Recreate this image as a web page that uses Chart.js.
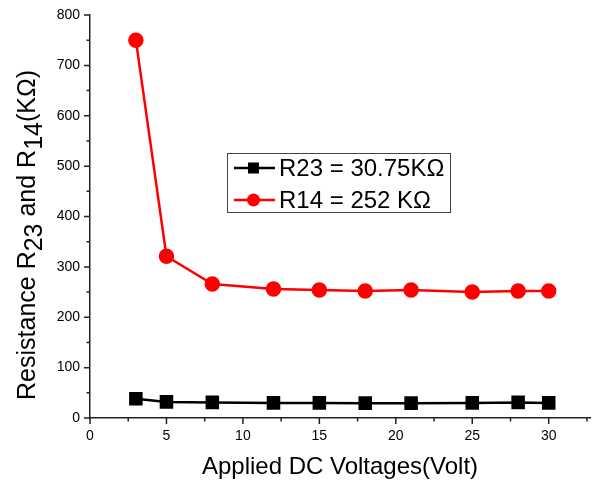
<!DOCTYPE html>
<html>
<head>
<meta charset="utf-8">
<script src="https://cdn.jsdelivr.net/npm/chart.js@4/dist/chart.umd.min.js"></script>
<style>
  html, body { margin: 0; padding: 0; background: #fff; }
  #wrap { width: 592px; height: 482px; position: relative; }
</style>
</head>
<body>
<div id="wrap"><canvas id="resChart"></canvas></div>
<script>
// data
var voltages = [3, 5, 8, 12, 15, 18, 21, 25, 28, 30];
var r23 = [38, 32, 31, 30, 30, 29.5, 29.5, 30, 31, 30];
var r14 = [750, 321, 266, 256, 254, 252, 254, 250, 252, 252];
var xTicks = [0, 5, 10, 15, 20, 25, 30];
var yTicks = [0, 100, 200, 300, 400, 500, 600, 700, 800];

var FONT = 'Arial, "Liberation Sans", sans-serif';

function pairs(xs, ys) {
	return xs.map(function (x, i) { return { x: x, y: ys[i] }; });
}

// minor + major tick marks, drawn outward like the original plot
var tickMarks = {
	id: 'tickMarks',
	afterDraw: function (chart) {
		var ctx = chart.ctx, xs = chart.scales.x, ys = chart.scales.y;
		var area = chart.chartArea;
		ctx.save();
		ctx.strokeStyle = '#222';
		ctx.lineWidth = 1.5;
		ctx.beginPath();
		for (var v = 0; v <= 800; v += 50) {
			var py = ys.getPixelForValue(v);
			var len = v % 100 === 0 ? 6 : 3.5;
			ctx.moveTo(area.left, py);
			ctx.lineTo(area.left - len, py);
		}
		for (var u = 0; u <= 32.5; u += 2.5) {
			var px = xs.getPixelForValue(u);
			var l = u % 5 === 0 ? 6 : 3.5;
			ctx.moveTo(px, area.bottom);
			ctx.lineTo(px, area.bottom + l);
		}
		ctx.stroke();
		ctx.restore();
	}
};

// rotated y title with subscripts (Origin keeps them full size, just lowered)
var yTitle = {
	id: 'yTitle',
	afterDraw: function (chart) {
		var ctx = chart.ctx;
		var parts = [['Resistance R', 0], ['23', 1], [' and R', 0], ['14', 1], ['(K\u03A9)', 0]];
		ctx.save();
		ctx.translate(35, 235);
		ctx.rotate(-Math.PI / 2);
		ctx.fillStyle = '#000';
		ctx.textBaseline = 'alphabetic';
		ctx.font = '25px ' + FONT;
		var total = 0;
		parts.forEach(function (p) { total += ctx.measureText(p[0]).width; });
		var x = -total / 2;
		parts.forEach(function (p) {
			ctx.fillText(p[0], x, p[1] ? 7 : 0);
			x += ctx.measureText(p[0]).width;
		});
		ctx.restore();
	}
};

// boxed legend inside the plot
var boxLegend = {
	id: 'boxLegend',
	afterDraw: function (chart) {
		var ctx = chart.ctx;
		ctx.save();
		ctx.fillStyle = '#fff';
		ctx.fillRect(227, 153, 223, 59);
		ctx.strokeStyle = '#444';
		ctx.lineWidth = 1;
		ctx.strokeRect(227.5, 153.5, 223, 59);
		chart.data.datasets.forEach(function (ds, i) {
			var y = 168 + i * 32;
			ctx.strokeStyle = ds.borderColor;
			ctx.lineWidth = 2.5;
			ctx.beginPath();
			ctx.moveTo(234, y);
			ctx.lineTo(275, y);
			ctx.stroke();
			ctx.fillStyle = ds.backgroundColor;
			if (ds.pointStyle === 'rect') {
				ctx.fillRect(248, y - 5.5, 11, 11);
			} else {
				ctx.beginPath();
				ctx.arc(253.5, y, 6.5, 0, Math.PI * 2);
				ctx.fill();
			}
			ctx.fillStyle = '#000';
			ctx.font = '24px ' + FONT;
			ctx.textBaseline = 'middle';
			ctx.fillText(ds.label, 279, y + 1);
		});
		ctx.restore();
	}
};

var ctx = document.getElementById('resChart');
var myChart = new Chart(ctx, {
	type: 'line',
	data: {
		datasets: [{
			label: 'R23 = 30.75K\u03A9',
			data: pairs(voltages, r23),
			borderColor: '#000',
			backgroundColor: '#000',
			borderWidth: 2.5,
			pointStyle: 'rect',
			pointRadius: 7.8,
			pointHoverRadius: 7.8
		}, {
			label: 'R14 = 252 K\u03A9',
			data: pairs(voltages, r14),
			borderColor: '#ff0000',
			backgroundColor: '#ff0000',
			borderWidth: 2.5,
			pointStyle: 'circle',
			pointRadius: 6.5,
			pointHoverRadius: 6.5
		}]
	},
	options: {
		responsive: true,
		maintainAspectRatio: false,
		animation: false,
		layout: { autoPadding: false, padding: { top: 15, right: 2, left: 0, bottom: 0 } },
		plugins: {
			legend: { display: false },
			tooltip: { enabled: false }
		},
		scales: {
			x: {
				type: 'linear',
				min: 0,
				max: 32.7,
				afterBuildTicks: function (s) { s.ticks = xTicks.map(function (v) { return { value: v }; }); },
				afterFit: function (s) { s.height = 64; s.paddingLeft = 0; s.paddingRight = 0; },
				grid: { display: false },
				border: { display: true, color: '#222', width: 1.5 },
				ticks: { color: '#000', font: { family: FONT, size: 14 }, padding: 2, maxRotation: 0 },
				title: {
					display: true,
					text: 'Applied DC Voltages(Volt)',
					color: '#000',
					font: { family: FONT, size: 24 },
					padding: { top: 4, bottom: 0 }
				}
			},
			y: {
				type: 'linear',
				min: 0,
				max: 800,
				afterBuildTicks: function (s) { s.ticks = yTicks.map(function (v) { return { value: v }; }); },
				afterFit: function (s) { s.width = 90; s.paddingTop = 0; s.paddingBottom = 0; },
				grid: { display: false },
				border: { display: true, color: '#222', width: 1.5 },
				ticks: { color: '#000', font: { family: FONT, size: 14 }, padding: 2 }
			}
		}
	},
	plugins: [tickMarks, yTitle, boxLegend]
});
</script>
</body>
</html>
